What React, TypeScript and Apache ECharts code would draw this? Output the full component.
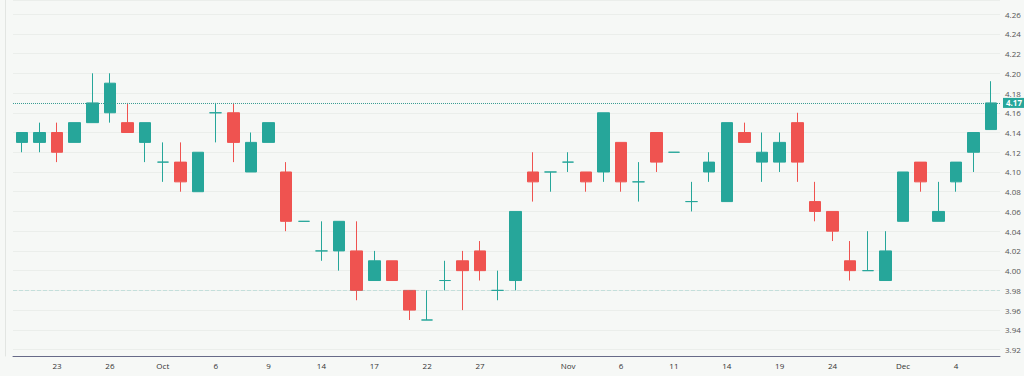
import React, { useEffect, useRef } from "react";
import * as echarts from "echarts";

const dates = [
  "2024-09-19", "2024-09-20", "2024-09-23", "2024-09-24", "2024-09-25", "2024-09-26", "2024-09-27", "2024-09-30",
  "2024-10-01", "2024-10-02", "2024-10-03", "2024-10-06", "2024-10-07", "2024-10-08", "2024-10-09", "2024-10-10",
  "2024-10-11", "2024-10-14", "2024-10-15", "2024-10-16", "2024-10-17", "2024-10-18", "2024-10-21", "2024-10-22",
  "2024-10-23", "2024-10-24", "2024-10-27", "2024-10-28", "2024-10-29", "2024-10-30", "2024-10-31", "2024-11-01",
  "2024-11-04", "2024-11-05", "2024-11-06", "2024-11-07", "2024-11-08", "2024-11-11", "2024-11-12", "2024-11-13",
  "2024-11-14", "2024-11-15", "2024-11-18", "2024-11-19", "2024-11-20", "2024-11-21", "2024-11-24", "2024-11-25",
  "2024-11-26", "2024-11-27", "2024-12-01", "2024-12-02", "2024-12-03", "2024-12-04", "2024-12-05", "2024-12-06",
];

const opens = [
  4.13, 4.13, 4.14, 4.13, 4.15, 4.16, 4.15, 4.13, 4.11, 4.11, 4.08, 4.16, 4.16, 4.10, 4.13, 4.10,
  4.05, 4.02, 4.02, 4.02, 3.99, 4.01, 3.98, 3.95, 3.99, 4.01, 4.02, 3.98, 3.99, 4.10, 4.10, 4.11,
  4.10, 4.10, 4.13, 4.09, 4.14, 4.12, 4.07, 4.10, 4.07, 4.14, 4.11, 4.11, 4.15, 4.07, 4.06, 4.01,
  4.00, 3.99, 4.05, 4.11, 4.05, 4.09, 4.12, 4.143,
];
const closes = [
  4.14, 4.14, 4.12, 4.15, 4.17, 4.19, 4.14, 4.15, 4.11, 4.09, 4.12, 4.16, 4.13, 4.13, 4.15, 4.05,
  4.05, 4.02, 4.05, 3.98, 4.01, 3.99, 3.96, 3.95, 3.99, 4.00, 4.00, 3.98, 4.06, 4.09, 4.10, 4.11,
  4.09, 4.16, 4.09, 4.09, 4.11, 4.12, 4.07, 4.11, 4.15, 4.13, 4.12, 4.13, 4.11, 4.06, 4.04, 4.00,
  4.00, 4.02, 4.10, 4.09, 4.06, 4.11, 4.14, 4.17,
];
const lows = [
  4.12, 4.12, 4.11, 4.13, 4.15, 4.15, 4.14, 4.11, 4.09, 4.08, 4.08, 4.13, 4.11, 4.10, 4.13, 4.04,
  4.05, 4.01, 4.00, 3.97, 3.99, 3.99, 3.95, 3.95, 3.98, 3.96, 3.99, 3.97, 3.98, 4.07, 4.08, 4.10,
  4.08, 4.09, 4.08, 4.07, 4.10, 4.12, 4.06, 4.09, 4.07, 4.13, 4.09, 4.10, 4.09, 4.05, 4.03, 3.99,
  4.00, 3.99, 4.05, 4.08, 4.05, 4.08, 4.10, 4.143,
];
const highs = [
  4.14, 4.15, 4.15, 4.15, 4.20, 4.20, 4.17, 4.15, 4.13, 4.13, 4.12, 4.17, 4.17, 4.14, 4.15, 4.11,
  4.05, 4.05, 4.05, 4.05, 4.02, 4.01, 3.98, 3.98, 4.01, 4.02, 4.03, 4.00, 4.06, 4.12, 4.10, 4.12,
  4.10, 4.16, 4.13, 4.11, 4.14, 4.12, 4.09, 4.12, 4.15, 4.15, 4.14, 4.14, 4.16, 4.09, 4.06, 4.03,
  4.04, 4.04, 4.10, 4.11, 4.09, 4.11, 4.14, 4.192,
];

const tickDates = [
  "2024-09-23", "2024-09-26", "2024-10-01", "2024-10-06", "2024-10-09", "2024-10-14", "2024-10-17",
  "2024-10-22", "2024-10-27", "2024-11-01", "2024-11-06", "2024-11-11", "2024-11-14", "2024-11-19",
  "2024-11-24", "2024-12-01", "2024-12-04",
];
const monthNames = ["Jan", "Feb", "Mar", "Apr", "May", "Jun", "Jul", "Aug", "Sep", "Oct", "Nov", "Dec"];

const lastPrice = 4.17;
const refLevel = 3.985;
const yMin = 3.9135;
const yMax = 4.2743;

const UP = "#26a69a";
const DOWN = "#ef5350";

export default function App() {
  const ref = useRef<HTMLDivElement>(null);
  useEffect(() => {
    if (!ref.current) return;
    const chart = echarts.init(ref.current, null, { renderer: "svg" });
    const data = opens.map((o, i) => [o, closes[i], lows[i], highs[i]]);
    const tickSet = new Set(tickDates);
    chart.setOption({
      animation: false,
      backgroundColor: "#f6f8f6",
      textStyle: { fontFamily: "Open Sans, sans-serif" },
      grid: { left: 13, right: 24, top: 0, bottom: 20 },
      xAxis: {
        type: "category",
        data: dates,
        boundaryGap: true,
        axisLine: { show: true, lineStyle: { color: "#676a88", width: 1 } },
        axisTick: { show: false },
        splitLine: { show: false },
        axisLabel: {
          fontSize: 8,
          color: "#333",
          margin: 5,
          interval: (_i: number, v: string) => tickSet.has(v),
          formatter: (v: string) => {
            const parts = v.split("-");
            const day = parseInt(parts[2], 10);
            return day === 1 ? monthNames[parseInt(parts[1], 10) - 1] : String(day);
          },
        },
      },
      yAxis: [
        {
          type: "value",
          position: "right",
          min: yMin,
          max: yMax,
          splitNumber: 18,
          axisLine: { show: false },
          axisTick: { show: false },
          splitLine: { show: true, lineStyle: { color: "#ebeeeb", width: 1 } },
          axisLabel: {
            fontSize: 8,
            color: "#555",
            margin: 5,
            showMinLabel: false,
            showMaxLabel: false,
            formatter: (v: number) => v.toFixed(2),
          },
        },
        {
          type: "value",
          position: "left",
          offset: 8,
          min: yMin,
          max: yMax,
          axisLine: { show: true, lineStyle: { color: "#e2e5e2", width: 1 } },
          axisTick: { show: false },
          axisLabel: { show: false },
          splitLine: { show: false },
        },
      ],
      series: [
        {
          type: "candlestick",
          data,
          yAxisIndex: 0,
          barWidth: 12,
          itemStyle: {
            color: UP,
            color0: DOWN,
            borderColor: UP,
            borderColor0: DOWN,
            borderColorDoji: UP,
            borderWidth: 1,
          },
          markLine: {
            silent: true,
            symbol: ["none", "none"],
            data: [
              {
                yAxis: lastPrice,
                lineStyle: { color: "#3a9c93", type: "dotted", width: 1 },
                label: {
                  show: true,
                  position: "end",
                  distance: 3,
                  formatter: () => lastPrice.toFixed(2),
                  color: "#fff",
                  fontSize: 8,
                  fontWeight: "bold",
                  backgroundColor: UP,
                  padding: [1, 3],
                },
              },
              {
                yAxis: refLevel,
                lineStyle: { color: "rgba(38,166,154,0.2)", type: "dashed", width: 1 },
                label: { show: false },
              },
            ],
          },
        },
      ],
    });
    return () => chart.dispose();
  }, []);
  return (
    <div
      ref={ref}
      style={{ position: "fixed", left: 0, top: 0, width: 1024, height: 376 }}
    />
  );
}
